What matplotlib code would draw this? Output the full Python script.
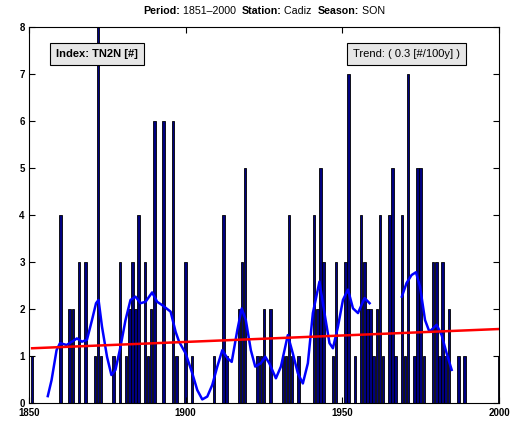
import numpy as np
import matplotlib
matplotlib.use("Agg")
import matplotlib.pyplot as plt
from matplotlib.offsetbox import TextArea, HPacker, AnchoredOffsetbox

plt.rcParams["font.family"] = ["Liberation Sans", "DejaVu Sans"]

# ======================================
# DATA
# ======================================

years = np.arange(1851, 2001)

counts = (
    [1, 0, 0, 0, 0, 0, 0, 0, 0, 4]      # 1851-1860
    + [0, 0, 2, 2, 0, 3, 0, 3, 0, 0]    # 1861-1870
    + [1, 8, 1, 0, 0, 0, 1, 0, 3, 0]    # 1871-1880
    + [1, 2, 3, 2, 4, 0, 3, 1, 2, 6]    # 1881-1890
    + [0, 0, 6, 0, 0, 6, 1, 0, 0, 3]    # 1891-1900
    + [0, 1, 0, 0, 0, 0, 0, 0, 1, 0]    # 1901-1910
    + [0, 4, 1, 0, 0, 0, 2, 3, 5, 0]    # 1911-1920
    + [0, 0, 1, 1, 2, 0, 2, 0, 0, 0]    # 1921-1930
    + [1, 1, 4, 1, 0, 1, 0, 0, 0, 0]    # 1931-1940
    + [4, 2, 5, 3, 0, 0, 1, 3, 0, 0]    # 1941-1950
    + [3, 7, 0, 1, 0, 4, 3, 2, 2, 1]    # 1951-1960
    + [2, 4, 1, 0, 4, 5, 1, 0, 4, 1]    # 1961-1970
    + [7, 0, 1, 5, 5, 1, 0, 0, 3, 3]    # 1971-1980
    + [1, 3, 1, 2, 0, 0, 1, 0, 1, 0]    # 1981-1990
    + [0, 0, 0, 0, 0, 0, 0, 0, 0, 1]    # 1991-2000
)

# smoothed curve, first piece
smooth_years_a = [
    1856.0, 1857.2, 1858.8, 1859.9, 1862.0, 1863.7, 1865.3, 1866.9,
    1868.5, 1870.1, 1871.4, 1872.2, 1873.3, 1874.9, 1876.3, 1877.6,
    1879.2, 1880.8, 1882.4, 1884.0, 1885.6, 1887.2, 1889.3, 1890.9,
    1892.5, 1895.2, 1896.8, 1897.9, 1900.0, 1902.1, 1903.7, 1905.3,
    1906.9, 1908.5, 1910.1, 1911.7, 1913.3, 1914.7, 1916.5, 1917.9,
    1919.2, 1920.8, 1922.2, 1924.0, 1925.4, 1926.7, 1928.8, 1930.4,
    1932.6, 1934.2, 1935.8, 1937.4, 1939.0, 1940.6, 1942.7, 1944.3,
    1945.9, 1947.0, 1948.6, 1950.2, 1951.8, 1953.4, 1955.0, 1957.1,
    1958.7
]
smooth_values_a = [
    0.14, 0.48, 1.12, 1.27, 1.23, 1.30, 1.37, 1.30,
    1.34, 1.76, 2.12, 2.19, 1.62, 0.98, 0.59, 0.70,
    1.19, 1.76, 2.19, 2.26, 2.12, 2.15, 2.35, 2.15,
    2.08, 1.94, 1.51, 1.30, 1.05, 0.63, 0.27, 0.07,
    0.13, 0.38, 0.77, 1.12, 0.95, 0.87, 1.55, 2.01,
    1.76, 1.12, 0.77, 0.84, 0.98, 0.84, 0.52, 0.77,
    1.44, 1.05, 0.63, 0.41, 0.84, 1.91, 2.58, 1.91,
    1.27, 1.16, 1.62, 2.19, 2.41, 2.01, 1.91, 2.23,
    2.12
]

# smoothed curve, second piece
smooth_years_b = [
    1969.0, 1970.5, 1972.1, 1973.5, 1974.8, 1976.4, 1977.8, 1980.1,
    1981.7, 1983.3, 1984.9
]
smooth_values_b = [
    2.26, 2.55, 2.72, 2.78, 2.47, 1.76, 1.51, 1.66,
    1.44, 1.05, 0.70
]

trend_years = [1851, 2000]
trend_values = [1.16, 1.57]

x_ticks = [1850, 1900, 1950, 2000]
y_ticks = [0, 1, 2, 3, 4, 5, 6, 7, 8]

# ======================================
# FIGURE
# ======================================

fig = plt.figure(figsize=(5.14, 4.23), dpi=100)
ax = fig.add_axes([0.0564, 0.048, 0.9144, 0.8875])

ax.bar(
    years,
    counts,
    width=0.8,
    color="#000080",
    edgecolor="black",
    linewidth=0.6
)

ax.plot(smooth_years_a, smooth_values_a, color="#0000ff", lw=1.8)
ax.plot(smooth_years_b, smooth_values_b, color="#0000ff", lw=1.8)
ax.plot(trend_years, trend_values, color="#ff0000", lw=1.8)

ax.set_xlim(1850, 2000)
ax.set_ylim(0, 8)
ax.set_xticks(x_ticks)
ax.set_yticks(y_ticks)

ax.tick_params(
    direction="in",
    top=True,
    right=True,
    length=4,
    width=0.8,
    labelsize=7,
)
ax.tick_params(axis="x", pad=3.5)
ax.tick_params(axis="y", pad=3)
for lab in ax.get_xticklabels() + ax.get_yticklabels():
    lab.set_fontweight("bold")

for spine in ax.spines.values():
    spine.set_linewidth(0.8)

box_style = dict(
    boxstyle="square,pad=0.55",
    facecolor="#e6e6e6",
    edgecolor="black",
    linewidth=0.8
)

ax.text(
    0.058, 0.928,
    "Index: TN2N [#]",
    transform=ax.transAxes,
    fontsize=8,
    fontweight="bold",
    va="center",
    ha="left",
    bbox=box_style
)

ax.text(
    0.689, 0.928,
    "Trend: ( 0.3 [#/100y] )",
    transform=ax.transAxes,
    fontsize=8,
    va="center",
    ha="left",
    bbox=box_style
)

# title with mixed bold / normal parts
parts = [
    ("Period:", "bold"), (" 1851\u20132000  ", "normal"),
    ("Station:", "bold"), (" Cadiz  ", "normal"),
    ("Season:", "bold"), (" SON", "normal"),
]
areas = [
    TextArea(t, textprops=dict(fontsize=7.7, fontweight=w))
    for t, w in parts
]
title_box = HPacker(children=areas, pad=0, sep=0)
anchored = AnchoredOffsetbox(
    loc="lower center",
    child=title_box,
    pad=0,
    frameon=False,
    bbox_to_anchor=(0.5, 1.03),
    bbox_transform=ax.transAxes,
    borderpad=0
)
ax.add_artist(anchored)

fig.savefig("out.png", dpi=100)
